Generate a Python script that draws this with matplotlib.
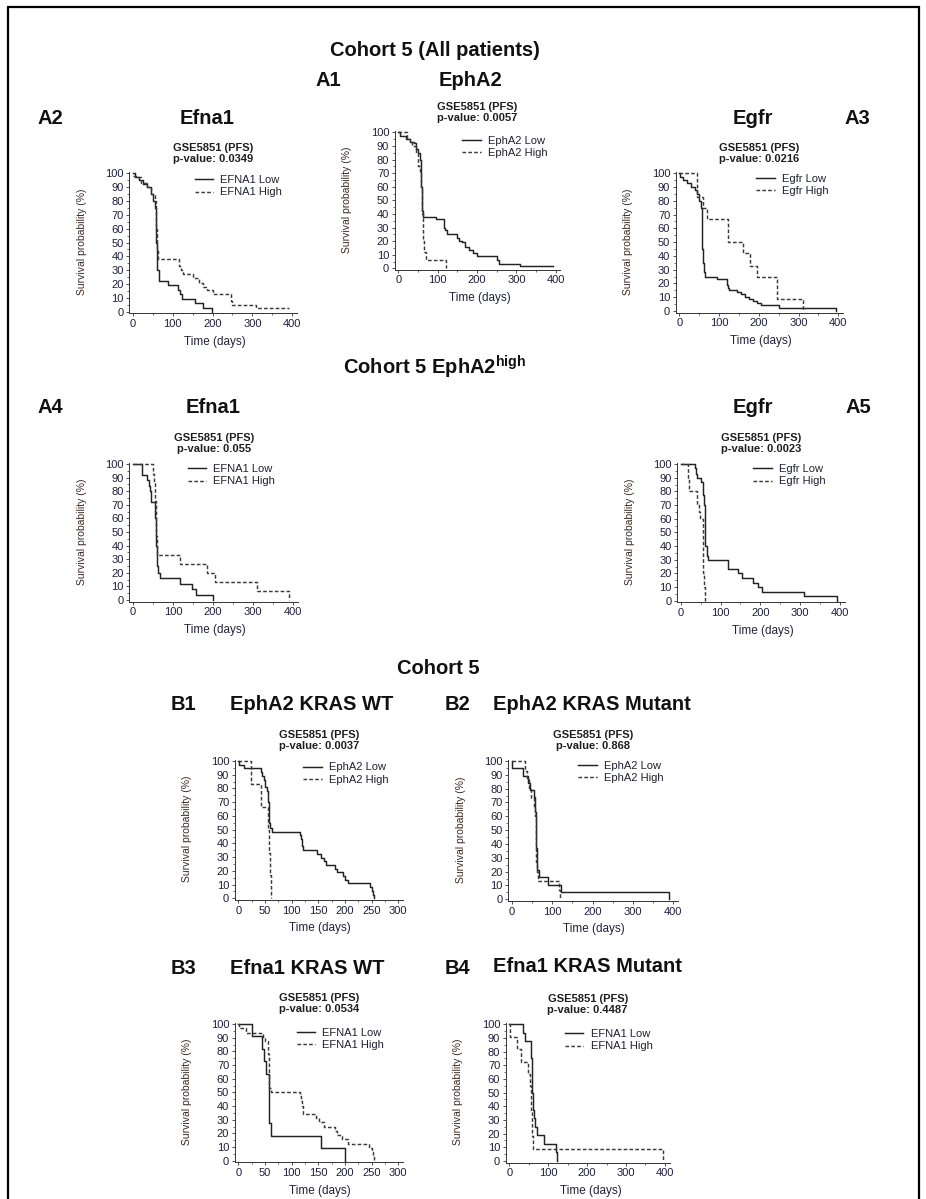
import matplotlib
matplotlib.use("Agg")
import matplotlib.pyplot as plt
from matplotlib.patches import Rectangle
from matplotlib.ticker import MultipleLocator

plt.rcParams['font.family'] = ['Liberation Sans', 'DejaVu Sans']
plt.rcParams['mathtext.fontset'] = 'custom'
plt.rcParams['mathtext.rm'] = 'Liberation Sans'
plt.rcParams['mathtext.bf'] = 'Liberation Sans:bold'

# ---------------- data ----------------
dataset = "GSE5851 (PFS)"

# A2: Efna1, all patients
a2_labels = ["EFNA1 Low", "EFNA1 High"]
a2_p = "0.0349"
a2_low_t = [0, 5, 15, 25, 35, 45, 50, 55, 58, 60, 65, 89, 114, 119, 123, 156, 177, 198]
a2_low_s = [100, 97, 95, 92, 90, 85, 80, 75, 50, 30, 22, 19, 16, 13, 9.5, 6, 3, 0]
a2_high_t = [0, 10, 20, 35, 45, 55, 58, 60, 63, 117, 120, 125, 152, 165, 175, 185, 200, 247, 250, 309, 392]
a2_high_s = [98, 97, 93, 90, 85, 80, 60, 45, 38, 33, 30, 27, 24, 21, 18, 16, 13, 8, 4.8, 2.4, 2.4]

# A1: EphA2, all patients
a1_labels = ["EphA2 Low", "EphA2 High"]
a1_p = "0.0057"
a1_low_t = [0, 5, 20, 30, 40, 45, 50, 55, 57, 58, 59, 60, 62, 95, 117, 119, 123, 148, 155, 162, 170, 180, 190, 200, 250, 255, 310, 392]
a1_low_s = [100, 97, 95, 93, 92, 88, 85, 80, 70, 60, 50, 42, 38, 36, 30, 28, 25, 22, 20, 19, 16, 13.5, 11, 9.3, 6, 3.2, 1.6, 1.6]
a1_high_t = [0, 23, 30, 35, 45, 50, 55, 58, 60, 62, 63, 65, 70, 121]
a1_high_s = [100, 95, 93, 90, 85, 75, 70, 60, 40, 30, 20, 12, 6, 0]

# A3: Egfr, all patients
a3_labels = ["Egfr Low", "Egfr High"]
a3_p = "0.0216"
a3_low_t = [0, 2, 10, 20, 30, 40, 45, 50, 55, 57, 58, 60, 62, 65, 94, 119, 122, 125, 145, 155, 165, 175, 185, 195, 205, 250, 393]
a3_low_s = [100, 97, 95, 93, 90, 88, 85, 80, 75, 60, 45, 35, 28, 25, 23, 19, 17, 15, 14, 12, 10.5, 9, 7, 6, 4.6, 2, 0]
a3_high_t = [0, 45, 60, 69, 122, 161, 178, 195, 247, 312]
a3_high_s = [100, 83, 75, 67, 50, 42, 33, 25, 8.5, 0]

# A4: Efna1, EphA2 high
a4_labels = ["EFNA1 Low", "EFNA1 High"]
a4_p = "0.055"
a4_low_t = [0, 22, 35, 40, 43, 45, 56, 58, 60, 63, 68, 118, 147, 157, 199]
a4_low_s = [100, 92, 88, 84, 80, 72, 60, 40, 25, 20, 16, 12, 8, 4, 0]
a4_high_t = [0, 50, 53, 55, 57, 59, 60, 118, 184, 205, 309, 390]
a4_high_s = [100, 93, 87, 73, 60, 47, 33, 26.7, 20, 13.3, 6.7, 0]

# A5: Egfr, EphA2 high
a5_labels = ["Egfr Low", "Egfr High"]
a5_p = "0.0023"
a5_low_t = [0, 36, 38, 42, 52, 55, 57, 59, 60, 61, 62, 65, 68, 120, 145, 153, 181, 195, 205, 310, 392]
a5_low_s = [100, 97, 93, 90, 87, 83, 77, 70, 60, 50, 40, 33, 30, 23.3, 20, 16.7, 13.3, 10, 6.7, 3.3, 0]
a5_high_t = [0, 19, 21, 42, 46, 48, 55, 56, 57, 58, 60, 61]
a5_high_s = [100, 90, 80, 70, 65, 60, 50, 40, 20, 10, 5, 0]

# B1: EphA2, KRAS WT
b1_labels = ["EphA2 Low", "EphA2 High"]
b1_p = "0.0037"
b1_low_t = [0, 1, 10, 42, 45, 48, 50, 53, 55, 57, 58, 60, 63, 116, 118, 120, 122, 148, 155, 160, 165, 182, 185, 197, 200, 205, 247, 250, 253, 255]
b1_low_s = [100, 97, 94.6, 92, 89, 86, 81, 78, 70, 65, 55, 51, 48.6, 46, 43, 38, 35, 32, 29.7, 27, 24.3, 21.6, 19, 16, 13.5, 11, 8, 5.4, 2.7, 0]
b1_high_t = [0, 23, 42, 56, 58, 59, 61]
b1_high_s = [100, 83.3, 66.7, 50, 33.3, 16.7, 0]

# B2: EphA2, KRAS mutant
b2_labels = ["EphA2 Low", "EphA2 High"]
b2_p = "0.868"
b2_low_t = [0, 1, 29, 40, 45, 55, 57, 59, 60, 62, 63, 68, 91, 121, 389]
b2_low_s = [100, 94.7, 89.5, 84, 79, 74, 63, 50, 37, 26, 21, 16, 10.5, 5.3, 0]
b2_high_t = [0, 33, 37, 42, 48, 55, 58, 59, 60, 61, 62, 66, 118, 120]
b2_high_s = [100, 93, 87, 80, 73, 67, 60, 47, 33, 27, 20, 13.3, 6.7, 0]

# B3: Efna1, KRAS WT
b3_labels = ["EFNA1 Low", "EFNA1 High"]
b3_p = "0.0534"
b3_low_t = [0, 25, 45, 48, 52, 57, 58, 62, 156, 200]
b3_low_s = [100, 90.9, 81.8, 72.7, 63.6, 45, 27.3, 18.2, 9.1, 0]
b3_high_t = [0, 1, 15, 46, 50, 55, 56, 57, 58, 62, 115, 118, 120, 122, 145, 152, 160, 182, 185, 195, 205, 246, 250, 252, 255]
b3_high_s = [100, 96.8, 93.7, 90.6, 87.5, 84.4, 78, 70, 53, 50, 47, 44, 40, 34.4, 31, 28, 25, 22, 18.8, 15.6, 12.5, 9.4, 6.3, 3.1, 0]

# B4: Efna1, KRAS mutant
b4_labels = ["EFNA1 Low", "EFNA1 High"]
b4_p = "0.4487"
b4_low_t = [0, 34, 41, 55, 57, 58, 59, 60, 63, 66, 70, 90, 120, 123]
b4_low_s = [100, 93.75, 87.5, 81.25, 75, 62.5, 50, 37.5, 31.25, 25, 18.75, 12.5, 6.25, 0]
b4_high_t = [0, 1, 20, 30, 48, 54, 56, 57, 58, 59, 60, 395]
b4_high_s = [100, 90.9, 81.8, 72.7, 63.6, 54.5, 45.5, 36.4, 27.3, 18.2, 9.1, 0]

# Headings
headings = [
    ("Cohort 5 (All patients)", 435, 50),
    ("A1", 328, 80), ("EphA2", 470, 80),
    ("A2", 50, 118), ("Efna1", 207, 118), ("Egfr", 753, 118), ("A3", 857, 118),
    (r"Cohort 5 EphA2$^{\mathbf{high}}$", 435, 367),
    ("A4", 50, 408), ("Efna1", 213, 408), ("Egfr", 753, 408), ("A5", 858, 408),
    ("Cohort 5", 438, 668),
    ("B1", 183, 705), ("EphA2 KRAS WT", 312, 705), ("B2", 457, 705), ("EphA2 KRAS Mutant", 592, 704),
    ("B3", 183, 968), ("Efna1 KRAS WT", 307, 968), ("B4", 457, 968), ("Efna1 KRAS Mutant", 587, 967),
]

# ---------------- layout (pixel positions) ----------------
W, H = 926, 1199
fig = plt.figure(figsize=(W / 100, H / 100), dpi=100)


def fx(px):
    return px / W


def fy(py):
    return 1 - py / H


panels = [
    # series, labels, p, x0px, px/day, y0px, y100px, xmax, xmajor, legend (dx, dy)
    ((a2_low_t, a2_low_s, a2_high_t, a2_high_s), a2_labels, a2_p, 132.7, 0.399, 311.7, 173.3, 400, 100, (62, 8.4)),
    ((a1_low_t, a1_low_s, a1_high_t, a1_high_s), a1_labels, a1_p, 398.3, 0.3935, 268.3, 132.3, 400, 100, (64, 10)),
    ((a3_low_t, a3_low_s, a3_high_t, a3_high_s), a3_labels, a3_p, 679.3, 0.3975, 311.0, 173.3, 400, 100, (77, 6.7)),
    ((a4_low_t, a4_low_s, a4_high_t, a4_high_s), a4_labels, a4_p, 132.7, 0.4015, 600.0, 464.0, 400, 100, (55, 6.7)),
    ((a5_low_t, a5_low_s, a5_high_t, a5_high_s), a5_labels, a5_p, 680.7, 0.398, 600.7, 464.0, 400, 100, (72.6, 6.7)),
    ((b1_low_t, b1_low_s, b1_high_t, b1_high_s), b1_labels, b1_p, 238.3, 0.5333, 898.3, 761.0, 300, 50, (65, 8)),
    ((b2_low_t, b2_low_s, b2_high_t, b2_high_s), b2_labels, b2_p, 511.7, 0.404, 899.3, 761.0, 400, 100, (66.6, 6.3)),
    ((b3_low_t, b3_low_s, b3_high_t, b3_high_s), b3_labels, b3_p, 238.3, 0.5333, 1160.7, 1024.0, 300, 50, (58.4, 10)),
    ((b4_low_t, b4_low_s, b4_high_t, b4_high_s), b4_labels, b4_p, 509.3, 0.389, 1161.0, 1024.3, 400, 100, (55.7, 11.4)),
]

TICK_C = '#1e1e3c'
YLAB_C = '#3c2a22'
XLAB_C = '#22223a'
LINE_C = '#222222'

for series, labels, pval, x0, sx, y0, y100, xmax, xmaj, (ldx, ldy) in panels:
    ys = (y0 - y100) / 100.0
    xl0 = -3.5 / sx
    xl1 = xmax * 1.03
    yl0, yl1 = -1.2, 102.0
    left = x0 + xl0 * sx
    width = (xl1 - xl0) * sx
    top = y100 - (yl1 - 100) * ys
    bottom = y0 - yl0 * ys
    height = bottom - top
    ax = fig.add_axes([fx(left), fy(bottom), width / W, height / H])
    ax.set_xlim(xl0, xl1)
    ax.set_ylim(yl0, yl1)
    lt, ls_, ht, hs = series
    ax.step(lt, ls_, where='post', color=LINE_C, lw=1.05, label=labels[0])
    ax.step(ht, hs, where='post', color='#3a3a3a', lw=1.05, ls=(0, (2.5, 1.5)), label=labels[1])

    for s in ('top', 'right'):
        ax.spines[s].set_visible(False)
    for s in ('left', 'bottom'):
        ax.spines[s].set_linewidth(0.7)
        ax.spines[s].set_color('#333333')
    ax.spines['left'].set_bounds(yl0, 101)
    ax.set_yticks(range(0, 101, 10))
    ax.yaxis.set_minor_locator(MultipleLocator(5))
    ax.set_xticks(range(0, xmax + 1, xmaj))
    ax.xaxis.set_minor_locator(MultipleLocator(xmaj / 2))
    ax.tick_params(which='major', length=2.5, width=0.6, color='#333333', labelsize=8,
                   labelcolor=TICK_C, pad=1.5)
    ax.tick_params(which='minor', length=1.5, width=0.5, color='#333333')

    ax.set_xlabel("Time (days)", fontsize=8.5, color=XLAB_C)
    ax.set_ylabel("Survival probability (%)", fontsize=7.5, color=YLAB_C)
    ax.xaxis.set_label_coords((x0 + 82 - left) / width, 1 - (y0 + 24 - top) / height)
    ax.yaxis.set_label_coords((x0 - 46 - left) / width, 0.5)

    ax.set_title(f"{dataset}\np-value: {pval}", fontsize=8, fontweight='bold',
                 color='#1e1e1e', pad=6.5, linespacing=1.1)

    lx = x0 + ldx
    ly = y100 + ldy - 6.5
    ax.legend(loc='upper left', bbox_to_anchor=(fx(lx), fy(ly)), bbox_transform=fig.transFigure,
              frameon=False, fontsize=8, borderpad=0, borderaxespad=0, handlelength=1.65,
              handletextpad=0.65, labelspacing=0.2, labelcolor='#202030')

for text, x, y in headings:
    fig.text(fx(x), fy(y), text, ha='center', va='center', fontsize=14.5, fontweight='bold', color='#111111')

fig.add_artist(Rectangle((fx(8), fy(1215)), (919 - 8) / W, (1215 - 7) / H, transform=fig.transFigure,
                         fill=False, lw=1.6, ec='black'))

fig.savefig("out.png", dpi=100)
